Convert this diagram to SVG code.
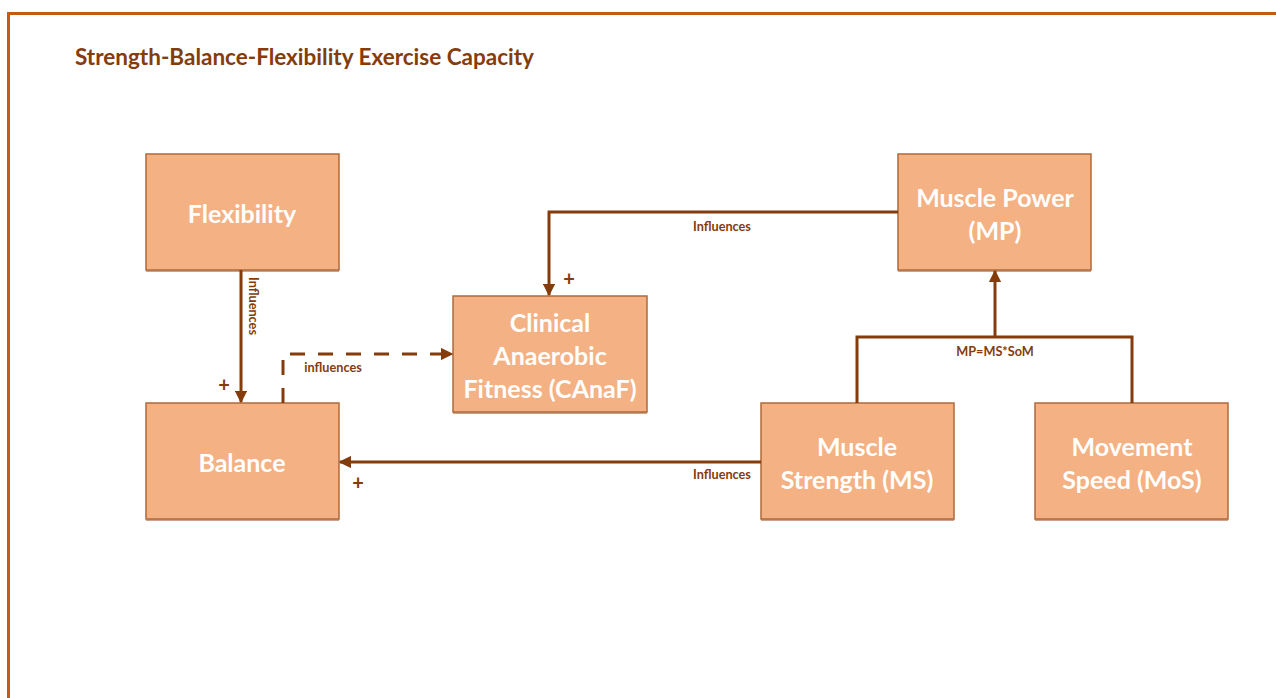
<svg xmlns="http://www.w3.org/2000/svg" width="1276" height="698" viewBox="0 0 1276 698">
  <style>
    .frame { fill: none; stroke: #c55a11; stroke-width: 3; }
    .title { font-family: Lato, "Liberation Sans", sans-serif; font-weight: bold; font-size: 22.5px; fill: #843c0c; }
    .box { fill: #f4b183; stroke: #b06a3a; stroke-width: 1.5; }
    .shadow { fill: #c9a48a; }
    .lbl { font-family: Lato, "Liberation Sans", sans-serif; font-weight: bold; font-size: 25px; fill: #ffffff; text-anchor: middle; dominant-baseline: central; }
    .edge { fill: none; stroke: #843c0c; stroke-width: 3; }
    .dash { stroke-dasharray: 15 13; }
    .small { font-family: Lato, "Liberation Sans", sans-serif; font-weight: bold; font-size: 12.7px; fill: #843c0c; text-anchor: middle; dominant-baseline: central; }
    .plus { font-family: Lato, "Liberation Sans", sans-serif; font-weight: bold; font-size: 20px; fill: #843c0c; text-anchor: middle; dominant-baseline: central; }
  </style>
  <defs>
    <marker id="arrow" viewBox="0 0 10 10" refX="9" refY="5" markerWidth="4.2" markerHeight="4.2" orient="auto" markerUnits="strokeWidth">
      <path d="M0,0 L10,5 L0,10 Z" fill="#843c0c"/>
    </marker>
  </defs>

  <rect width="1276" height="698" fill="#ffffff"/>
  <path class="frame" d="M8.5,698 V13.5 H1276"/>

  <text class="title" x="75" y="65">Strength-Balance-Flexibility Exercise Capacity</text>

  <g id="node-flexibility">
    <rect class="shadow" x="146" y="155" width="193" height="117"/>
    <rect class="box" x="146" y="154" width="193" height="116"/>
    <text class="lbl" x="242" y="213">Flexibility</text>
  </g>
  <g id="node-balance">
    <rect class="shadow" x="146" y="404" width="193" height="117"/>
    <rect class="box" x="146" y="403" width="193" height="116"/>
    <text class="lbl" x="242" y="462">Balance</text>
  </g>
  <g id="node-canaf">
    <rect class="shadow" x="453" y="297" width="194" height="117"/>
    <rect class="box" x="453" y="296" width="194" height="116"/>
    <text class="lbl" x="550" y="322">Clinical</text>
    <text class="lbl" x="550" y="355">Anaerobic</text>
    <text class="lbl" x="550" y="388">Fitness (CAnaF)</text>
  </g>
  <g id="node-mp">
    <rect class="shadow" x="898" y="155" width="193" height="117"/>
    <rect class="box" x="898" y="154" width="193" height="116"/>
    <text class="lbl" x="995" y="197">Muscle Power</text>
    <text class="lbl" x="995" y="230">(MP)</text>
  </g>
  <g id="node-ms">
    <rect class="shadow" x="761" y="404" width="193" height="117"/>
    <rect class="box" x="761" y="403" width="193" height="116"/>
    <text class="lbl" x="857" y="446">Muscle</text>
    <text class="lbl" x="857" y="479">Strength (MS)</text>
  </g>
  <g id="node-mos">
    <rect class="shadow" x="1035" y="404" width="193" height="117"/>
    <rect class="box" x="1035" y="403" width="193" height="116"/>
    <text class="lbl" x="1132" y="446">Movement</text>
    <text class="lbl" x="1132" y="479">Speed (MoS)</text>
  </g>

  <g id="connectors">
    <!-- Flexibility to Balance -->
    <path class="edge" d="M241,270 V402" marker-end="url(#arrow)"/>
    <text class="small" transform="translate(254,306) rotate(90)">Influences</text>
    <text class="plus" x="224" y="384">+</text>

    <!-- Balance to CAnaF (dashed) -->
    <path class="edge dash" d="M283,403 V354 H452" marker-end="url(#arrow)"/>
    <text class="small" x="333" y="367">influences</text>

    <!-- Muscle Power to CAnaF -->
    <path class="edge" d="M898,212 H549 V295" marker-end="url(#arrow)"/>
    <text class="small" x="722" y="226">Influences</text>
    <text class="plus" x="569" y="278">+</text>

    <!-- Muscle Strength to Balance -->
    <path class="edge" d="M761,462 H340" marker-end="url(#arrow)"/>
    <text class="small" x="722" y="474">Influences</text>
    <text class="plus" x="358" y="482">+</text>

    <!-- Strength and Speed combine into Power -->
    <path class="edge" d="M857,403 V337 H1132 V403"/>
    <path class="edge" d="M995,337 V271" marker-end="url(#arrow)"/>
    <text class="small" x="995" y="351">MP=MS*SoM</text>
  </g>
</svg>
